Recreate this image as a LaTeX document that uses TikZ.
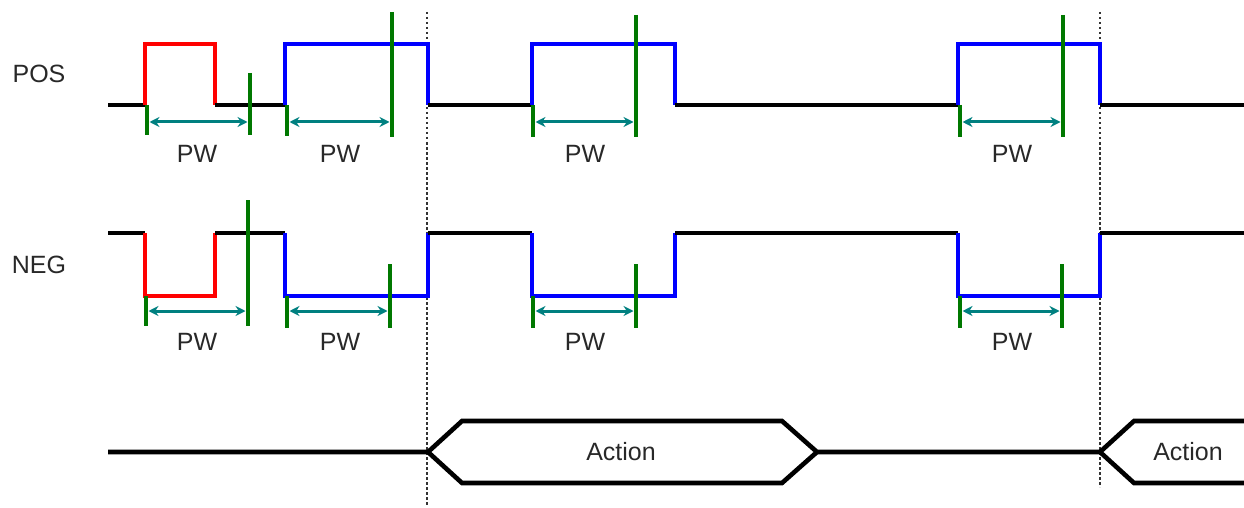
\documentclass[tikz,border=0pt]{standalone}
\usepackage{fontspec}
\setmainfont{Liberation Sans}
\usetikzlibrary{arrows.meta}
\definecolor{sigblack}{RGB}{0,0,0}
\definecolor{sigred}{RGB}{255,0,0}
\definecolor{sigblue}{RGB}{0,0,255}
\definecolor{mkgreen}{RGB}{0,120,0}
\definecolor{pwteal}{RGB}{0,128,128}
\definecolor{txtgray}{RGB}{40,40,40}
\begin{document}
\begin{tikzpicture}[x=1pt,y=-1pt,
  wave/.style={line width=4.6pt,line join=miter},
  bline/.style={wave,sigblack},
  rline/.style={wave,sigred},
  uline/.style={wave,sigblue},
  marker/.style={line width=4.6pt,mkgreen},
  pwarrow/.style={line width=3pt,pwteal,{Stealth[length=10pt,width=10pt]}-{Stealth[length=10pt,width=10pt]},shorten <=2.5pt,shorten >=2.5pt},
  lbl/.style={font=\fontsize{25}{29}\selectfont,text=txtgray,inner sep=0pt},
  guide/.style={line width=1.6pt,dash pattern=on 2.5pt off 2.5pt,black!80}
]
\useasboundingbox (0,0) rectangle (1244,508);
% guides
\draw[guide] (427,12) -- (427,505);
\draw[guide] (1100,12) -- (1100,487);

% POS waveform
\draw[bline] (108,105) -- (145,105);
\draw[rline] (145,105) -- (145,44) -- (215,44) -- (215,105);
\draw[bline] (215,105) -- (285,105);
\draw[uline] (285,105) -- (285,44) -- (428,44) -- (428,105);
\draw[bline] (428,105) -- (532,105);
\draw[uline] (532,105) -- (532,44) -- (675,44) -- (675,105);
\draw[bline] (675,105) -- (958,105);
\draw[uline] (958,105) -- (958,44) -- (1100,44) -- (1100,105);
\draw[bline] (1100,105) -- (1244,105);

% NEG waveform
\draw[bline] (108,233) -- (145,233);
\draw[rline] (145,233) -- (145,296) -- (215,296) -- (215,233);
\draw[bline] (215,233) -- (285,233);
\draw[uline] (285,233) -- (285,296) -- (428,296) -- (428,233);
\draw[bline] (428,233) -- (532,233);
\draw[uline] (532,233) -- (532,296) -- (675,296) -- (675,233);
\draw[bline] (675,233) -- (958,233);
\draw[uline] (958,233) -- (958,296) -- (1100,296) -- (1100,233);
\draw[bline] (1100,233) -- (1244,233);

% POS markers
\coordinate (pa1) at (147,122); \coordinate (pb1) at (250,122);
\coordinate (pa2) at (287,122); \coordinate (pb2) at (392,122);
\coordinate (pa3) at (533,122); \coordinate (pb3) at (636,122);
\coordinate (pa4) at (960,122); \coordinate (pb4) at (1063,122);
\draw[marker] (147,105) -- (147,135);
\draw[marker] (250,73) -- (250,135);
\draw[marker] (287,105) -- (287,136);
\draw[marker] (392,12) -- (392,137);
\draw[marker] (533,105) -- (533,137);
\draw[marker] (636,15) -- (636,137);
\draw[marker] (960,105) -- (960,137);
\draw[marker] (1063,15) -- (1063,137);
\foreach \i in {1,2,3,4} \draw[pwarrow] (pa\i) -- (pb\i);

% NEG markers
\coordinate (na1) at (146,311); \coordinate (nb1) at (248,311);
\coordinate (na2) at (287,311); \coordinate (nb2) at (390,311);
\coordinate (na3) at (533,311); \coordinate (nb3) at (636,311);
\coordinate (na4) at (960,311); \coordinate (nb4) at (1062,311);
\draw[marker] (146,296) -- (146,326);
\draw[marker] (248,200) -- (248,326);
\draw[marker] (287,296) -- (287,328);
\draw[marker] (390,264) -- (390,328);
\draw[marker] (533,296) -- (533,328);
\draw[marker] (636,264) -- (636,328);
\draw[marker] (960,296) -- (960,328);
\draw[marker] (1062,264) -- (1062,328);
\foreach \i in {1,2,3,4} \draw[pwarrow] (na\i) -- (nb\i);

% labels
\node[lbl] (pos) at (39,74) {POS};
\node[lbl] (neg) at (39,265) {NEG};
\node[lbl] (pw1) at (197,154) {PW};
\node[lbl] (pw2) at (340,154) {PW};
\node[lbl] (pw3) at (585,154) {PW};
\node[lbl] (pw4) at (1012,154) {PW};
\node[lbl] (pw5) at (197,342) {PW};
\node[lbl] (pw6) at (340,342) {PW};
\node[lbl] (pw7) at (585,342) {PW};
\node[lbl] (pw8) at (1012,342) {PW};

% action bus
\draw[bline] (108,452) -- (428,452) -- (462,421) -- (782,421) -- (817,452) -- (1100,452);
\draw[bline] (428,452) -- (462,483) -- (782,483) -- (817,452);
\draw[bline] (1244,421) -- (1134,421) -- (1100,452) -- (1134,483) -- (1244,483);
\node[lbl] (act1) at (621,452) {Action};
\node[lbl] (act2) at (1188,452) {Action};
\end{tikzpicture}
\end{document}
